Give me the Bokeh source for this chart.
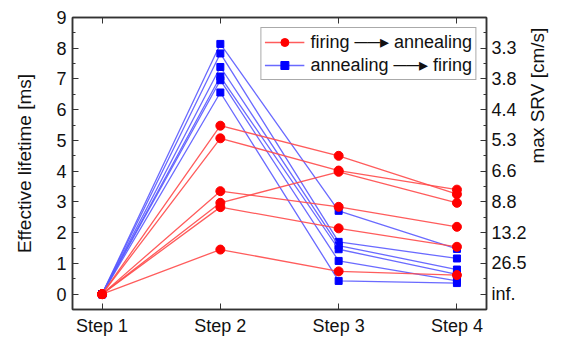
import math
from bokeh.plotting import figure
from bokeh.models import (LinearAxis, FixedTicker, SingleIntervalTicker,
                          Legend, LegendItem)
from bokeh.embed import file_html
from bokeh.resources import INLINE

# ---- data ----
steps = ["Step 1", "Step 2", "Step 3", "Step 4"]
step_x = [1, 2, 3, 4]

# firing -> annealing (red), one value per line at each step
fa_step1 = [0, 0, 0, 0, 0, 0]
fa_step2 = [5.48, 5.07, 3.35, 2.97, 2.83, 1.45]
fa_step3 = [4.50, 4.02, 2.84, 3.98, 2.14, 0.74]
fa_step4 = [3.25, 3.40, 2.19, 2.97, 1.54, 0.62]

# annealing -> firing (blue)
af_step1 = [0, 0, 0, 0, 0, 0]
af_step2 = [8.14, 7.83, 7.39, 7.08, 6.96, 6.56]
af_step3 = [2.71, 1.70, 1.58, 1.46, 1.08, 0.43]
af_step4 = [1.47, 1.16, 0.80, 0.64, 0.43, 0.36]

srv_ticks = [0, 1, 2, 3, 4, 5, 6, 7, 8]
srv_labels = ["inf.", "26.5", "13.2", "8.8", "6.6", "5.3", "4.4", "3.8", "3.3"]

FONT = "Liberation Sans"
AX_COL = "#333333"

p = figure(width=562, height=338, x_range=(0.75, 4.25), y_range=(-0.5, 9),
           output_backend="svg", toolbar_location=None,
           min_border_left=72, min_border_right=76,
           min_border_top=17, min_border_bottom=26)
p.xgrid.visible = False
p.ygrid.visible = False
p.outline_line_color = AX_COL
p.outline_line_width = 1.5
p.background_fill_color = "white"
p.border_fill_color = "white"


def style_axis(ax):
    ax.axis_line_color = AX_COL
    ax.axis_line_width = 1.5
    ax.major_tick_line_color = AX_COL
    ax.minor_tick_line_color = AX_COL
    ax.major_tick_in = 6
    ax.major_tick_out = 0
    ax.minor_tick_in = 3
    ax.minor_tick_out = 0
    ax.major_label_text_font = FONT
    ax.major_label_text_font_size = "18px"
    ax.major_label_text_color = "#111111"
    ax.axis_label_text_font = FONT
    ax.axis_label_text_font_size = "19px"
    ax.axis_label_text_font_style = "normal"
    ax.axis_label_text_color = "#111111"


# bottom axis
xa = p.xaxis[0]
style_axis(xa)
xa.ticker = FixedTicker(ticks=step_x)
xa.major_label_overrides = {x: s for x, s in zip(step_x, steps)}
xa.major_label_standoff = 6

# left axis
ya = p.yaxis[0]
style_axis(ya)
ya.ticker = SingleIntervalTicker(interval=1, num_minor_ticks=2)
ya.axis_label = "Effective lifetime [ms]"
ya.major_label_standoff = 6
ya.axis_label_standoff = 18

# top axis: tick marks only (drawn as unlabeled minor ticks)
top = LinearAxis(ticker=FixedTicker(ticks=[], minor_ticks=step_x))
style_axis(top)
top.minor_tick_in = 6
p.add_layout(top, "above")

# right axis with SRV tick labels
right = LinearAxis(ticker=FixedTicker(ticks=srv_ticks,
                                      minor_ticks=[t + 0.5 for t in [-1] + srv_ticks] + [9]))
style_axis(right)
right.major_label_overrides = {t: l for t, l in zip(srv_ticks, srv_labels)}
right.major_label_standoff = 5
p.add_layout(right, "right")

# outer right axis carrying only the title (reads bottom-to-top)
right_title = LinearAxis(ticker=FixedTicker(ticks=[], minor_ticks=[]), bounds=(-0.5, 3.5))
style_axis(right_title)
right_title.axis_line_color = None
right_title.axis_label = "max SRV [cm/s]"
right_title.axis_label_orientation = math.pi / 2
right_title.axis_label_standoff = 8
right_title.major_label_standoff = 0
p.add_layout(right_title, "right")

blue_line = "#5a5aff"
red_line = "#ff4a4a"

blue_r = []
for i in range(len(af_step2)):
    ys = [af_step1[i], af_step2[i], af_step3[i], af_step4[i]]
    l = p.line(step_x, ys, line_color=blue_line, line_width=1.3, line_alpha=0.9)
    s = p.scatter(step_x, ys, marker="square", size=7, fill_color="#0000ff",
                  line_color="#0000ff")
    blue_r.append((l, s))

red_r = []
for i in range(len(fa_step2)):
    ys = [fa_step1[i], fa_step2[i], fa_step3[i], fa_step4[i]]
    l = p.line(step_x, ys, line_color=red_line, line_width=1.3, line_alpha=0.9)
    s = p.scatter(step_x, ys, marker="circle", size=9, fill_color="#ff0000",
                  line_color="#ff0000")
    red_r.append((l, s))

legend = Legend(items=[
    LegendItem(label="firing \u2500\u2500\u25b8 annealing", renderers=list(red_r[0])),
    LegendItem(label="annealing \u2500\u2500\u25b8 firing", renderers=list(blue_r[0])),
], location="top_right")
legend.margin = 10
legend.padding = 3
legend.spacing = 1
legend.glyph_width = 40
legend.glyph_height = 20
legend.label_height = 20
legend.label_standoff = 6
legend.label_text_font = FONT
legend.label_text_font_size = "18px"
legend.label_text_color = "#111111"
legend.border_line_color = "#555555"
legend.border_line_width = 1
legend.background_fill_alpha = 1.0
p.add_layout(legend)

open("out.html", "w").write(file_html(p, INLINE))
